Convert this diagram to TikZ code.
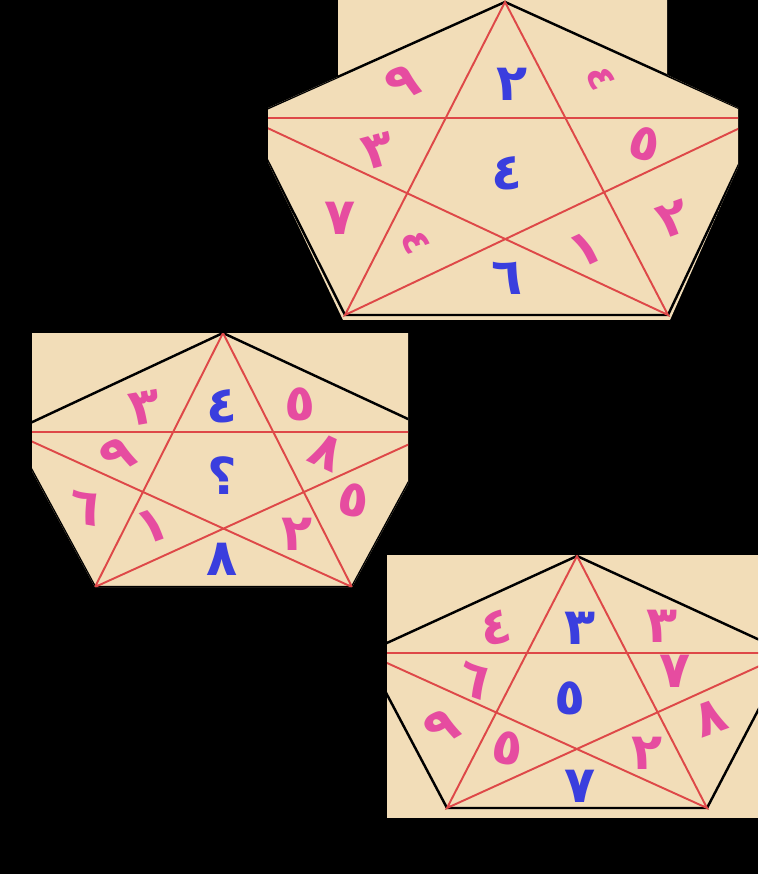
\documentclass[tikz,border=0pt]{standalone}
\usepackage{fontspec}
\newfontfamily\digfont[Script=Arabic]{DejaVu Sans}
\TeXXeTstate=1
\definecolor{paper}{RGB}{242,221,184}
\definecolor{starred}{RGB}{222,72,72}
\definecolor{digpink}{RGB}{230,76,160}
\definecolor{digblue}{RGB}{58,62,222}
\newcommand{\dig}[1]{\beginR #1\endR}
\tikzset{
	edge/.style={line width=1.4pt, black},
	starline/.style={line width=1.1pt, starred},
	pk/.style={text=digpink, font=\digfont\bfseries\fontsize{29}{29}\selectfont, inner sep=0pt, text height=20pt, text depth=0pt},
	bl/.style={text=digblue, font=\digfont\bfseries\fontsize{29}{29}\selectfont, inner sep=0pt, text height=20pt, text depth=0pt},
	small/.style={font=\digfont\bfseries\fontsize{22}{22}\selectfont, text height=15pt},
}
\begin{document}
\begin{tikzpicture}[x=0.02cm, y=-0.02cm]
		\fill[black] (0,0) rectangle (758,874);

		\coordinate (a1) at (505,2);
		\coordinate (l1) at (246,118);
		\coordinate (r1) at (761,118);
		\coordinate (bl1) at (345,315);
		\coordinate (br1) at (668,315);
		\begin{scope}
			\clip (338,0) -- (667,0) -- (667,75) -- (738,108) -- (738,167) -- (670,320) -- (343,320) -- (268,162) -- (268,108) -- (338,77) -- cycle;
			\fill[paper] (0,0) rectangle (758,874);
			\draw[edge] (a1) -- (r1) -- (br1) -- (bl1) -- (l1) -- cycle;
			\draw[starline] (a1) -- (bl1) -- (r1) -- (l1) -- (br1) -- cycle;
		\end{scope}

		\coordinate (a2) at (223,333);
		\coordinate (l2) at (11,432);
		\coordinate (r2) at (436,432);
		\coordinate (bl2) at (95,587);
		\coordinate (br2) at (352,587);
		\begin{scope}
			\clip (32,333) -- (408,333) -- (408,484) -- (352,587) -- (95,587) -- (32,471) -- cycle;
			\fill[paper] (0,0) rectangle (758,874);
			\draw[edge] (a2) -- (r2) -- (br2) -- (bl2) -- (l2) -- cycle;
			\draw[starline] (a2) -- (bl2) -- (r2) -- (l2) -- (br2) -- cycle;
		\end{scope}

		\coordinate (a3) at (577,556);
		\coordinate (l3) at (365,653);
		\coordinate (r3) at (788,653);
		\coordinate (bl3) at (447,808);
		\coordinate (br3) at (707,808);
		\begin{scope}
			\clip (387,555) rectangle (758,817);
			\fill[paper] (0,0) rectangle (758,874);
			\draw[edge] (a3) -- (r3) -- (br3) -- (bl3) -- (l3) -- cycle;
			\draw[starline] (a3) -- (bl3) -- (r3) -- (l3) -- (br3) -- cycle;
		\end{scope}

		\node[pk, rotate=25] (t1) at (402,82) {\dig{٩}};
		\node[bl] (t2) at (512,83) {\dig{٢}};
		\node[pk, small, rotate=-70] (t3) at (602,78) {\dig{٤}};
		\node[pk, rotate=15] (t4) at (378,150) {\dig{٣}};
		\node[bl] (t5) at (507,172) {\dig{٤}};
		\node[pk, rotate=-15] (t6) at (645,143) {\dig{٥}};
		\node[pk] (t7) at (340,217) {\dig{٧}};
		\node[pk, small, rotate=-70] (t8) at (417,242) {\dig{٤}};
		\node[bl] (t9) at (507,277) {\dig{٦}};
		\node[pk, rotate=25] (t10) at (585,248) {\dig{١}};
		\node[pk, rotate=20] (t11) at (673,218) {\dig{٢}};

		\node[pk, rotate=10] (m1) at (145,406) {\dig{٣}};
		\node[bl] (m2) at (222,405) {\dig{٤}};
		\node[pk] (m3) at (300,403) {\dig{٥}};
		\node[pk, rotate=30] (m4) at (117,455) {\dig{٩}};
		\node[bl] (m5) at (222,477) {\dig{؟}};
		\node[pk, rotate=-25] (m6) at (327,451) {\dig{٨}};
		\node[pk, rotate=-10] (m7) at (85,507) {\dig{٦}};
		\node[pk, rotate=20] (m8) at (152,525) {\dig{١}};
		\node[bl] (m9) at (222,558) {\dig{٨}};
		\node[pk] (m10) at (297,533) {\dig{٢}};
		\node[pk, rotate=-10] (m11) at (354,499) {\dig{٥}};

		\node[pk, rotate=10] (b1) at (496,626) {\dig{٤}};
		\node[bl] (b2) at (580,627) {\dig{٣}};
		\node[pk] (b3) at (662,625) {\dig{٣}};
		\node[pk, rotate=-20] (b4) at (474,679) {\dig{٦}};
		\node[bl] (b5) at (570,697) {\dig{٥}};
		\node[pk] (b6) at (675,670) {\dig{٧}};
		\node[pk, rotate=30] (b7) at (441,727) {\dig{٩}};
		\node[pk, rotate=-10] (b8) at (508,747) {\dig{٥}};
		\node[bl] (b9) at (580,785) {\dig{٧}};
		\node[pk] (b10) at (647,752) {\dig{٢}};
		\node[pk, rotate=20] (b11) at (710,717) {\dig{٨}};
\end{tikzpicture}
\end{document}
